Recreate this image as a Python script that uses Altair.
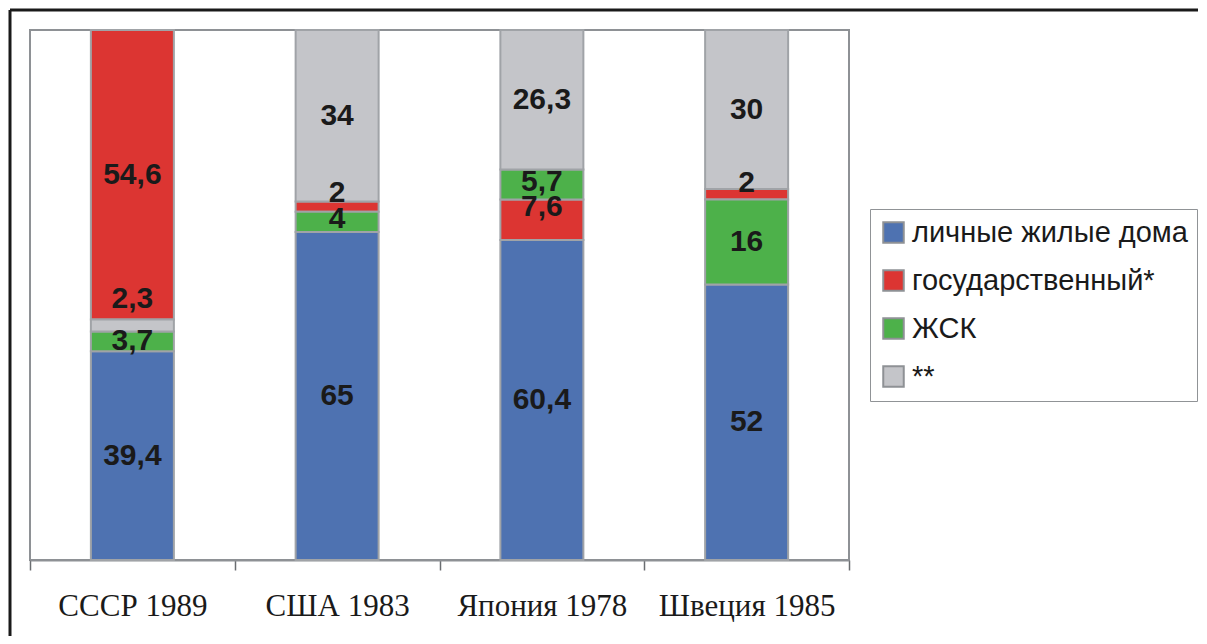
import altair as alt
import pandas as pd

countries = ["СССР 1989", "США 1983", "Япония 1978", "Швеция 1985"]
series = ["личные жилые дома", "государственный*", "ЖСК", "**"]
colors = ["#4E72B1", "#DC3532", "#4DB14A", "#C4C5C9"]

# values per country, in the order of `series`
v_ussr = [39.4, 54.6, 3.7, 2.3]
v_usa = [65, 2, 4, 34]
v_japan = [60.4, 7.6, 5.7, 26.3]
v_sweden = [52, 2, 16, 30]

# stacking order (bottom to top) of each bar
order_ussr = ["личные жилые дома", "ЖСК", "**", "государственный*"]
order_usa = ["личные жилые дома", "ЖСК", "государственный*", "**"]
order_japan = ["личные жилые дома", "государственный*", "ЖСК", "**"]
order_sweden = ["личные жилые дома", "ЖСК", "государственный*", "**"]

# label nudges (pixels upward) for labels on thin segments
label_nudge = {
    ("СССР 1989", "**"): 26,
    ("США 1983", "государственный*"): 14,
    ("США 1983", "ЖСК"): 3,
    ("Япония 1978", "государственный*"): 13,
    ("Япония 1978", "ЖСК"): 2,
    ("Швеция 1985", "государственный*"): 11,
}

PLOT_H = 530

rows = []
for c, vals, order in zip(countries, [v_ussr, v_usa, v_japan, v_sweden],
                          [order_ussr, order_usa, order_japan, order_sweden]):
    for s, v in zip(series, vals):
        rows.append({"country": c, "series": s, "value": v,
                     "ord": order.index(s),
                     "nudge": label_nudge.get((c, s), 0)})
df = pd.DataFrame(rows)

yscale = alt.Scale(domain=[0, 1], nice=False, zero=True)
xenc = alt.X("country:N", sort=countries,
             scale=alt.Scale(paddingInner=0, paddingOuter=0),
             axis=alt.Axis(title=None, labelAngle=0, tickBand="extent"))

bars = alt.Chart(df).mark_bar(size=83, stroke="#a0a3a7", strokeWidth=2).encode(
    x=xenc,
    y=alt.Y("value:Q", stack="normalize", scale=yscale, axis=None),
    color=alt.Color("series:N", scale=alt.Scale(domain=series, range=colors),
                    legend=alt.Legend(orient="none", legendX=840, legendY=179,
                                      title=None)),
    order=alt.Order("ord:Q", sort="ascending"),
)

labels = alt.Chart(df).transform_stack(
    stack="value", groupby=["country"],
    sort=[alt.SortField("ord", order="ascending")],
    as_=["v0", "v1"], offset="normalize",
).transform_calculate(
    ypos=f"(datum.v0 + datum.v1) / 2 + datum.nudge / {PLOT_H}",
    label="replace(toString(datum.value), '.', ',')",
).mark_text(font="Liberation Sans", fontWeight="bold", fontSize=30,
            color="#1a1a1a").encode(
    x=alt.X("country:N", sort=countries),
    y=alt.Y("ypos:Q", scale=yscale, axis=None),
    text="label:N",
)

frame_df = pd.DataFrame({"k": [0]})
frame_top = alt.Chart(frame_df).mark_rule(color="#1a1a1a", strokeWidth=3, clip=False).encode(
    x=alt.value(-20), x2=alt.value(1200), y=alt.value(-20))
frame_left = alt.Chart(frame_df).mark_rule(color="#1a1a1a", strokeWidth=3, clip=False).encode(
    x=alt.value(-20), y=alt.value(-20), y2=alt.value(620))

chart = alt.layer(bars, labels, frame_top, frame_left).properties(
    width=819, height=PLOT_H,
    autosize=alt.AutoSizeParams(type="none"),
    padding={"left": 22, "top": 22, "right": 349, "bottom": 76},
    background="white",
).configure_view(
    stroke="#8e9195", strokeWidth=2,
).configure_axis(
    domainColor="#8e9195", domainWidth=2, tickColor="#6a6d70", tickSize=10,
    tickWidth=1.5, labelFont="Liberation Serif", labelFontSize=31,
    labelColor="#1a1a1a", labelPadding=21, grid=False,
).configure_legend(
    strokeColor="#909396", padding=9, fillColor="white",
    labelFont="Liberation Sans", labelFontSize=29, labelColor="#1a1a1a",
    symbolType="square", symbolSize=420, symbolStrokeColor="#8e9195",
    symbolStrokeWidth=2, rowPadding=18, labelOffset=4, labelLimit=0,
)

chart.save("out.html", embed_options={"renderer": "svg", "actions": False})
